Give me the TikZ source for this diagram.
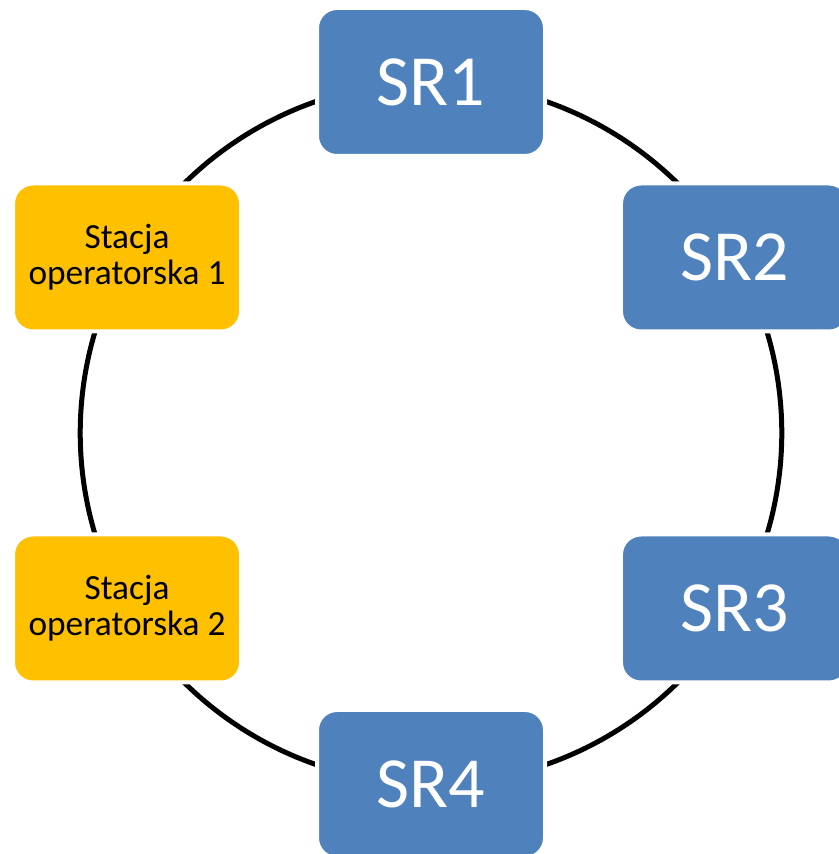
\documentclass[tikz,border=0pt]{standalone}
\usepackage{fontspec}
\setmainfont{Carlito}
\usetikzlibrary{backgrounds,calc}
\definecolor{srblue}{HTML}{4F81BD}
\definecolor{opgold}{HTML}{FFC000}
\begin{document}
\begin{tikzpicture}[x=0.75pt,y=0.75pt,
  box/.style={rectangle, rounded corners=15pt, draw=white, line width=3pt,
    minimum width=171pt, minimum height=111pt, inner sep=0pt, align=center},
  srbox/.style={box, fill=srblue, text=white, font=\fontsize{54}{60}\selectfont},
  opbox/.style={box, fill=opgold, text=black, font=\fontsize{26.5}{27}\selectfont},
  ring/.style={draw=black, line width=3.75pt, bend left=30, looseness=0.912}]
\useasboundingbox (0,0) rectangle (839,854);
\coordinate (c) at (431,421);
\node[srbox] (sr1) at ($(c)+(90:351)$) {SR1};
\node[srbox] (sr2) at ($(c)+(30:351)$) {SR2};
\node[srbox] (sr3) at ($(c)+(-30:351)$) {SR3};
\node[srbox] (sr4) at ($(c)+(-90:351)$) {SR4};
\node[opbox] (op2) at ($(c)+(210:351)$) {Stacja\\operatorska 2};
\node[opbox] (op1) at ($(c)+(150:351)$) {Stacja\\operatorska 1};
\begin{scope}[on background layer]
\draw[ring] (sr1.center) to (sr2.center);
\draw[ring] (sr2.center) to (sr3.center);
\draw[ring] (sr3.center) to (sr4.center);
\draw[ring] (sr4.center) to (op2.center);
\draw[ring] (op2.center) to (op1.center);
\draw[ring] (op1.center) to (sr1.center);
\end{scope}
\end{tikzpicture}
\end{document}
